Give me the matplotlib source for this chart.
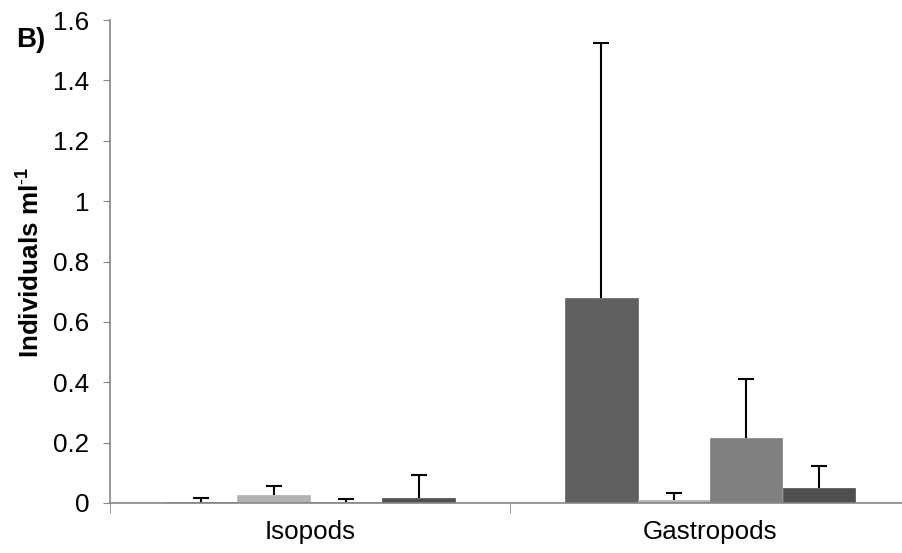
import matplotlib
matplotlib.use('Agg')
import matplotlib.pyplot as plt
import numpy as np

plt.rcParams['font.family'] = ['Liberation Sans', 'DejaVu Sans']
plt.rcParams['mathtext.fontset'] = 'custom'
plt.rcParams['mathtext.rm'] = 'Liberation Sans'
plt.rcParams['mathtext.bf'] = 'Liberation Sans:bold'

categories = ['Isopods', 'Gastropods']
# four series per category (means and upper error)
means = [
    [0.003, 0.678],
    [0.025, 0.010],
    [0.002, 0.216],
    [0.017, 0.049],
]
errs = [
    [0.014, 0.847],
    [0.032, 0.022],
    [0.011, 0.195],
    [0.076, 0.074],
]
colors = ['#606060', '#b3b3b3', '#808080', '#4f4f4f']

FS = 18.7

fig = plt.figure(figsize=(9.03, 5.53), dpi=100)
ax = fig.add_axes([110 / 903, 50 / 553, 800 / 903, 483 / 553])

x = np.arange(len(categories))
w = 0.18125
for i in range(4):
    off = (i - 1.5) * w
    bc = ax.bar(x + off, means[i], w, color=colors[i], edgecolor=colors[i], linewidth=0.5,
                yerr=[np.zeros(len(categories)), errs[i]], capsize=6,
                error_kw=dict(ecolor='black', elinewidth=1.5, capthick=1.5))
    caps = bc.errorbar.lines[1]
    caps[0].set_visible(False)  # only upper caps

ax.set_xlim(-0.5, 1.5)
ax.set_ylim(0, 1.6)
ax.set_yticks(np.arange(0, 1.61, 0.2))
ax.set_yticklabels(['0', '0.2', '0.4', '0.6', '0.8', '1', '1.2', '1.4', '1.6'])
ax.set_xticks(x)
ax.set_xticklabels(categories)
ax.set_xticks([-0.5, 0.5, 1.5], minor=True)
ax.tick_params(axis='x', which='major', length=0, pad=12, labelsize=FS)
ax.tick_params(axis='x', which='minor', length=7, direction='out', color='#868686')
ax.tick_params(axis='y', length=5, direction='out', color='#868686', labelsize=FS, pad=10)

for s in ['top', 'right']:
    ax.spines[s].set_visible(False)
for s in ['left', 'bottom']:
    ax.spines[s].set_color('#868686')
    ax.spines[s].set_linewidth(1.2)

fig.text(30 / 903, 1 - 262 / 553, r'Individuals ml$^{\mathbf{\text{-}1}}$', fontsize=FS,
         fontweight='bold', rotation=90, ha='center', va='center')
fig.text(16 / 903, 1 - 47 / 553, 'B)', fontsize=20, fontweight='bold', va='baseline', ha='left')

plt.savefig('out.png', dpi=100)
